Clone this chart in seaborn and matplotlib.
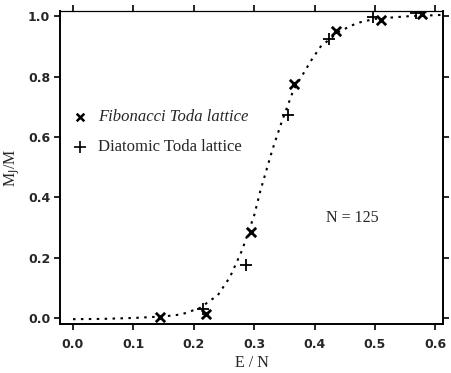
import matplotlib
matplotlib.use("Agg")
import matplotlib.pyplot as plt
import seaborn as sns
import pandas as pd

# Dotted fitted curve
curve_x = [0.0, 0.05, 0.10, 0.15, 0.18, 0.21, 0.24, 0.26, 0.28, 0.30, 0.31,
           0.33, 0.345, 0.365, 0.395, 0.41, 0.44, 0.47, 0.50, 0.55, 0.61]
curve_y = [-0.004, -0.003, 0.0, 0.005, 0.012, 0.033, 0.076, 0.136, 0.225, 0.34,
           0.42, 0.557, 0.647, 0.756, 0.856, 0.90, 0.949, 0.978, 0.992, 1.0, 1.005]

# Fibonacci Toda lattice (x markers)
fib_x = [0.144, 0.220, 0.295, 0.366, 0.435, 0.510, 0.578]
fib_y = [0.003, 0.013, 0.285, 0.776, 0.952, 0.988, 1.008]

# Diatomic Toda lattice (+ markers)
dia_x = [0.215, 0.286, 0.356, 0.424, 0.497, 0.568]
dia_y = [0.030, 0.176, 0.673, 0.925, 0.998, 1.010]

x_ticks = [0.0, 0.1, 0.2, 0.3, 0.4, 0.5, 0.6]
y_ticks = [0.0, 0.2, 0.4, 0.6, 0.8, 1.0]

sns.set_style("ticks")
plt.rcParams['font.family'] = ['Liberation Serif', 'DejaVu Serif']

fig = plt.figure(figsize=(4.52, 3.73), dpi=100)
ax = fig.add_axes([60/452, 1-324/373, (443-60)/452, (324-11)/373])

curve = pd.DataFrame({"x": curve_x, "y": curve_y})
fib = pd.DataFrame({"x": fib_x, "y": fib_y})
dia = pd.DataFrame({"x": dia_x, "y": dia_y})

sns.lineplot(data=curve, x="x", y="y", ax=ax, color="black", linewidth=1.5,
             linestyle=(0, (1.2, 2.6)), sort=False)
sns.scatterplot(data=fib, x="x", y="y", ax=ax, marker="x", s=45, color="black",
                linewidth=2.0, zorder=5)
sns.scatterplot(data=dia, x="x", y="y", ax=ax, marker="+", s=75, color="black",
                linewidth=1.3, zorder=5)

ax.set_xlim(-0.0215, 0.6126)
ax.set_ylim(-0.02, 1.018)
ax.set_xticks(x_ticks)
ax.set_yticks(y_ticks)
ax.set_xticklabels([f"{v:.1f}" for v in x_ticks], fontfamily="DejaVu Sans",
                   fontsize=9, fontweight="bold")
ax.set_yticklabels([f"{v:.1f}" for v in y_ticks], fontfamily="DejaVu Sans",
                   fontsize=9, fontweight="bold")
ax.tick_params(direction="out", length=4, width=1.2, color="black",
               top=True, right=True, labeltop=False, labelright=False)
ax.tick_params(axis="x", pad=6)
ax.tick_params(axis="y", pad=3)
for sp in ax.spines.values():
    sp.set_visible(True)
    sp.set_color("black")
    sp.set_linewidth(1.4)
ax.spines["top"].set_linewidth(0.9)

ax.set_xlabel("E / N", fontsize=11.5, labelpad=3)
ax.set_ylabel("M$_{\\rm J}$/M", fontsize=11.5, labelpad=4)

# Legend drawn as in the original (markers + text inside axes)
ax.scatter([0.012], [0.667], marker="x", s=30, color="black", linewidths=1.8)
ax.scatter([0.012], [0.567], marker="+", s=70, color="black", linewidths=1.2)
ax.text(0.041, 0.667, "Fibonacci Toda lattice", fontsize=12, style="italic",
        va="center", ha="left")
ax.text(0.041, 0.567, "Diatomic Toda lattice", fontsize=12,
        va="center", ha="left")
ax.text(0.462, 0.33, "N = 125", fontsize=11.5, va="center", ha="center")

fig.savefig("out.png", dpi=100)
